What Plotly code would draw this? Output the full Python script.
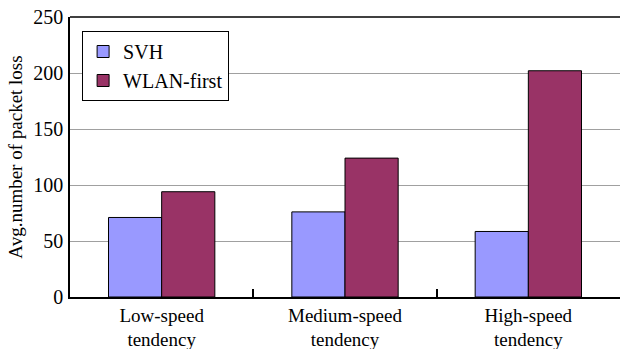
import plotly.graph_objects as go

categories = ["Low-speed<br>tendency", "Medium-speed<br>tendency", "High-speed<br>tendency"]
svh = [71, 76, 58.5]
wlan_first = [94, 124, 202]
series_names = ["SVH", "WLAN-first"]
y_ticks = [0, 50, 100, 150, 200, 250]

FONT = "Liberation Serif"

fig = go.Figure()
fig.add_trace(go.Bar(x=categories, y=svh, name=series_names[0],
                     marker=dict(color="#9999FF", line=dict(color="#000000", width=1))))
fig.add_trace(go.Bar(x=categories, y=wlan_first, name=series_names[1],
                     marker=dict(color="#993366", line=dict(color="#000000", width=1))))

fig.update_layout(
    width=620, height=349,
    margin=dict(l=70, r=0, t=17, b=52, autoexpand=False),
    paper_bgcolor="white", plot_bgcolor="white",
    font=dict(family=FONT, size=20, color="#000000"),
    barmode="group", bargap=0.42, bargroupgap=0,
    showlegend=True,
    legend=dict(x=0.022, y=0.95, xanchor="left", yanchor="top",
                bordercolor="#000000", borderwidth=1, bgcolor="white",
                font=dict(family=FONT, size=20, color="#000000"), itemwidth=30,
                tracegroupgap=0),
    xaxis=dict(showline=True, linecolor="#000000", linewidth=1.5,
               ticks="inside", tickson="boundaries", ticklen=8,
               tickcolor="#000000", tickwidth=1.5, showgrid=False,
               ticklabelstandoff=0, automargin=False,
               tickfont=dict(family=FONT, size=19, color="#000000")),
    yaxis=dict(range=[0, 250], tickvals=y_ticks, showline=True,
               linecolor="#000000", linewidth=1.5, showgrid=True,
               gridcolor="#a0a0a0", gridwidth=1, zeroline=False,
               ticks="", ticklabelstandoff=1, automargin=False,
               tickfont=dict(family=FONT, size=20, color="#000000"),
               title=dict(text="Avg.number of packet loss",
                          font=dict(family=FONT, size=19, color="#000000"), standoff=6)),
    shapes=[dict(type="line", xref="paper", yref="paper", x0=0, x1=1, y0=1, y1=1,
                 line=dict(color="#000000", width=1.5))],
)

fig.write_html("out.html")
